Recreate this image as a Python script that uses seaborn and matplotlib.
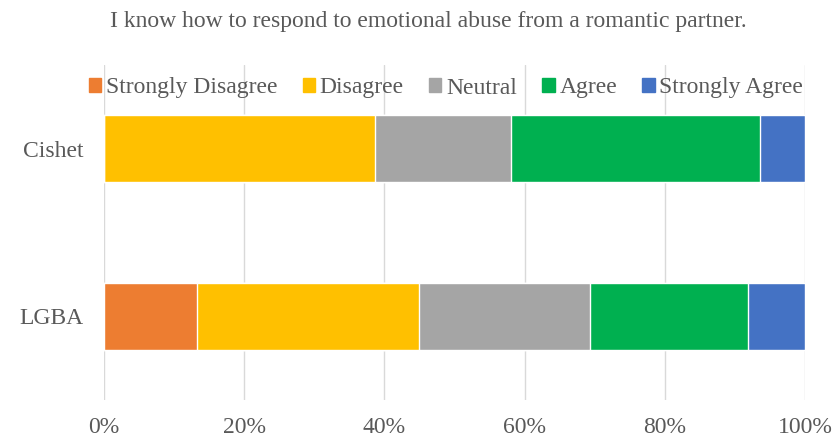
import matplotlib
matplotlib.use("Agg")
import matplotlib.pyplot as plt
import seaborn as sns
import pandas as pd

groups = ["Cishet", "LGBA"]
levels = ["Strongly Disagree", "Disagree", "Neutral", "Agree", "Strongly Agree"]
strongly_disagree = [0.0, 13.3]
disagree = [38.7, 31.7]
neutral = [19.4, 24.3]
agree = [35.5, 22.6]
strongly_agree = [6.4, 8.1]
colors = ["#ED7D31", "#FFC000", "#A5A5A5", "#00B050", "#4472C4"]
title = "I know how to respond to emotional abuse from a romantic partner."
xticks = [0, 20, 40, 60, 80, 100]

sns.set_theme(style="white")
plt.rcParams["font.family"] = ["Liberation Serif", "DejaVu Serif"]
text_color = "#595959"
fs = 17

df = pd.DataFrame(
    {"group": groups,
     "Strongly Disagree": strongly_disagree,
     "Disagree": disagree,
     "Neutral": neutral,
     "Agree": agree,
     "Strongly Agree": strongly_agree}
)
cum = df[levels].cumsum(axis=1)

fig = plt.figure(figsize=(8.38, 4.4), dpi=100)
ax = fig.add_axes([104 / 838, 40 / 440, 701 / 838, 335 / 440])

# stacked bars: draw cumulative totals from the outermost segment inward
for lvl, col in reversed(list(zip(levels, colors))):
    sns.barplot(data=pd.DataFrame({"group": groups, "value": cum[lvl]}),
                x="value", y="group", orient="h", color=col,
                width=0.4, saturation=1, ax=ax, label=lvl)

ax.set_xlim(0, 100)
ax.set_ylim(1.5, -0.5)
ax.set_xticks(xticks)
ax.set_xticklabels([f"{t}%" for t in xticks])
ax.set_xlabel("")
ax.set_ylabel("")
ax.grid(axis="x", color="#D9D9D9", linewidth=1)
ax.set_axisbelow(True)
for s in ax.spines.values():
    s.set_visible(False)
ax.tick_params(axis="both", length=0, labelsize=fs, labelcolor=text_color)
ax.tick_params(axis="x", pad=12)
ax.tick_params(axis="y", pad=15)

if ax.get_legend() is not None:
    ax.get_legend().remove()
handles = [plt.Rectangle((0, 0), 1, 1, color=c) for c in colors]
fig.legend(handles, levels, loc="center", bbox_to_anchor=(446 / 838, 1 - 88 / 440),
           ncol=5, frameon=False, fontsize=fs, labelcolor=text_color,
           handlelength=0.53, handleheight=0.53, handletextpad=0.2,
           columnspacing=1.06, borderpad=0, borderaxespad=0)

fig.text(428.5 / 838, 1 - 22 / 440, title, ha="center", va="center",
         fontsize=fs, color=text_color)

fig.savefig("out.png", dpi=100)
